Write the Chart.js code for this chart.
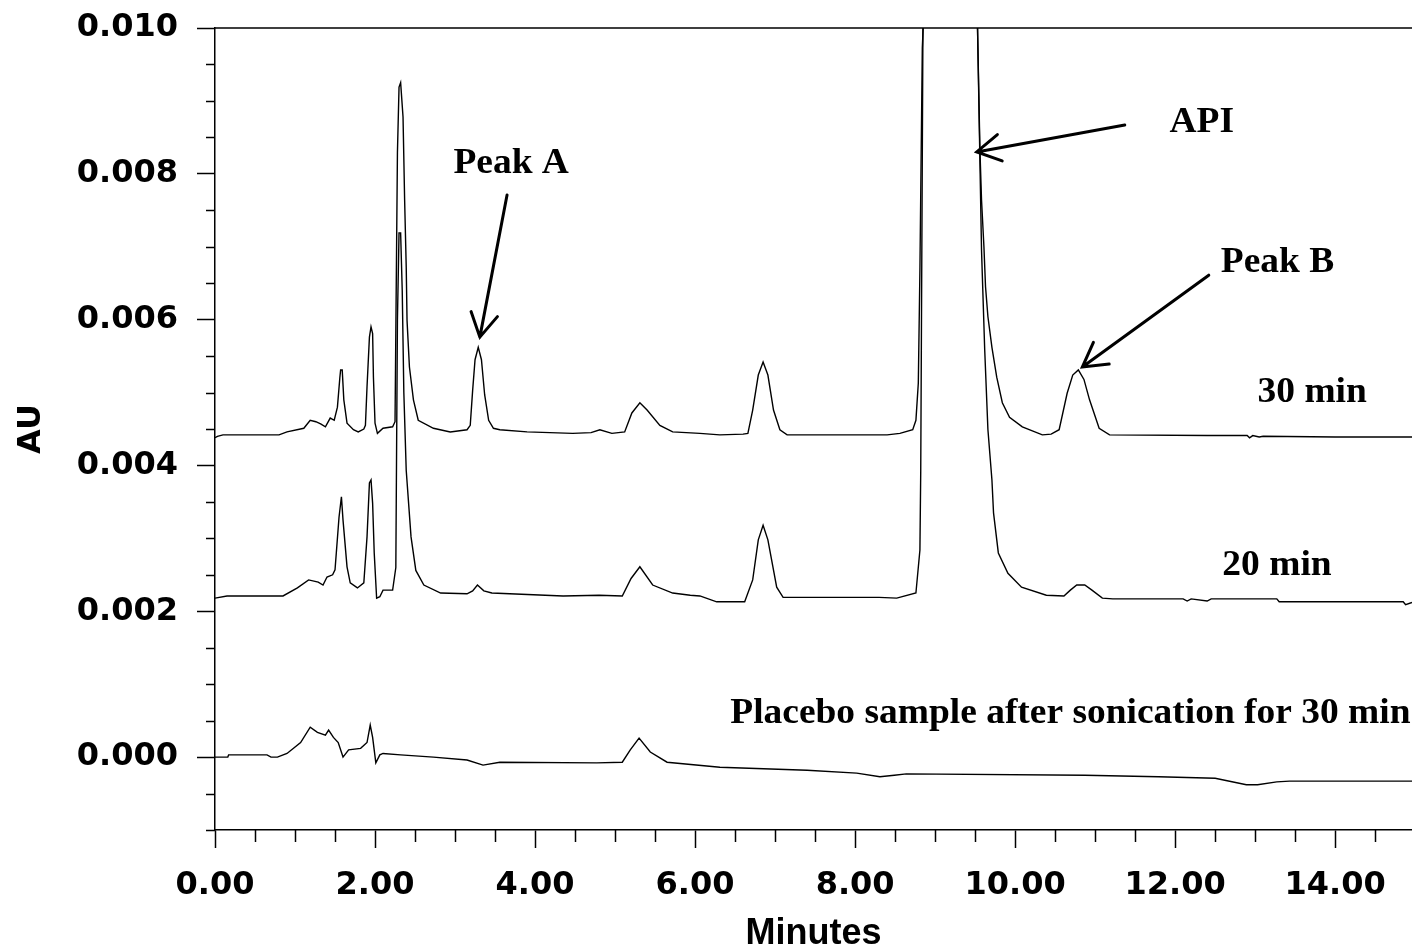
<!DOCTYPE html>
<html>
<head>
<meta charset="utf-8">
<title>Chromatogram - sonication time</title>
<script src="https://cdn.jsdelivr.net/npm/chart.js@4.4.1/dist/chart.umd.min.js"></script>
<style>
  html, body { margin: 0; padding: 0; background: #fff; }
  canvas { display: block; }
</style>
</head>
<body>
<canvas id="chromChart" width="1412" height="952"></canvas>
<script>
// 30 min sonication trace (minutes, AU)
const trace30Time = [0.00, 0.03, 0.10, 0.80, 0.90, 1.11, 1.19, 1.26, 1.32, 1.38, 1.44, 1.49, 1.53, 1.56, 1.57, 1.59, 1.61, 1.65, 1.73, 1.79, 1.86, 1.88, 1.90, 1.93, 1.95, 1.97, 1.98, 2.00, 2.03, 2.10, 2.22, 2.25, 2.28, 2.30, 2.32, 2.35, 2.37, 2.39, 2.40, 2.43, 2.48, 2.54, 2.73, 2.94, 3.15, 3.19, 3.22, 3.25, 3.29, 3.33, 3.37, 3.42, 3.48, 3.56, 3.90, 4.47, 4.70, 4.81, 4.96, 5.12, 5.21, 5.31, 5.40, 5.56, 5.72, 6.06, 6.31, 6.60, 6.66, 6.72, 6.79, 6.85, 6.91, 6.98, 7.06, 7.15, 8.00, 8.40, 8.56, 8.72, 8.76, 8.79, 8.81, 8.84, 8.87, 9.20, 9.52, 9.53, 9.56, 9.58, 9.61, 9.63, 9.66, 9.71, 9.77, 9.84, 9.93, 10.09, 10.34, 10.45, 10.55, 10.65, 10.72, 10.79, 10.86, 10.93, 11.05, 11.18, 12.40, 12.90, 12.93, 12.97, 13.05, 13.10, 14.00, 14.96];
const trace30AU = [0.00438, 0.00440, 0.00442, 0.00442, 0.00446, 0.00451, 0.00462, 0.00460, 0.00457, 0.00453, 0.00465, 0.00462, 0.00480, 0.00520, 0.00531, 0.00531, 0.00490, 0.00458, 0.00449, 0.00446, 0.00450, 0.00455, 0.00508, 0.00576, 0.00590, 0.00581, 0.00521, 0.00458, 0.00444, 0.00451, 0.00453, 0.00460, 0.00829, 0.00919, 0.00925, 0.00878, 0.00764, 0.00672, 0.00599, 0.00535, 0.00490, 0.00462, 0.00451, 0.00446, 0.00449, 0.00455, 0.00503, 0.00545, 0.00562, 0.00545, 0.00497, 0.00462, 0.00451, 0.00449, 0.00446, 0.00444, 0.00445, 0.00449, 0.00444, 0.00446, 0.00472, 0.00486, 0.00476, 0.00455, 0.00446, 0.00444, 0.00442, 0.00443, 0.00444, 0.00476, 0.00524, 0.00542, 0.00524, 0.00476, 0.00449, 0.00442, 0.00442, 0.00442, 0.00444, 0.00449, 0.00462, 0.00513, 0.00668, 0.00973, 0.01050, 0.03000, 0.01050, 0.01000, 0.00833, 0.00764, 0.00700, 0.00645, 0.00604, 0.00562, 0.00521, 0.00486, 0.00466, 0.00453, 0.00442, 0.00443, 0.00449, 0.00499, 0.00524, 0.00531, 0.00518, 0.00490, 0.00451, 0.00442, 0.00441, 0.00441, 0.00438, 0.00441, 0.00439, 0.00440, 0.00439, 0.00439];

// 20 min sonication trace
const trace20Time = [0.00, 0.15, 0.85, 1.03, 1.17, 1.29, 1.35, 1.40, 1.47, 1.50, 1.55, 1.58, 1.60, 1.65, 1.69, 1.78, 1.86, 1.90, 1.93, 1.95, 1.97, 1.99, 2.02, 2.06, 2.10, 2.22, 2.26, 2.28, 2.30, 2.32, 2.34, 2.36, 2.39, 2.45, 2.51, 2.61, 2.82, 3.15, 3.22, 3.28, 3.36, 3.46, 4.35, 4.80, 5.09, 5.20, 5.31, 5.47, 5.72, 5.94, 6.06, 6.27, 6.62, 6.72, 6.79, 6.85, 6.91, 7.02, 7.10, 8.30, 8.52, 8.76, 8.81, 8.82, 8.85, 9.20, 9.51, 9.53, 9.58, 9.62, 9.66, 9.71, 9.73, 9.79, 9.91, 10.08, 10.39, 10.61, 10.69, 10.77, 10.87, 10.96, 11.09, 11.22, 12.10, 12.15, 12.20, 12.40, 12.45, 13.27, 13.30, 14.85, 14.88, 14.96];
const trace20AU = [0.00218, 0.00221, 0.00221, 0.00232, 0.00243, 0.00240, 0.00236, 0.00247, 0.00250, 0.00257, 0.00329, 0.00357, 0.00325, 0.00261, 0.00239, 0.00232, 0.00239, 0.00302, 0.00376, 0.00380, 0.00348, 0.00280, 0.00218, 0.00220, 0.00229, 0.00229, 0.00260, 0.00600, 0.00719, 0.00719, 0.00640, 0.00500, 0.00393, 0.00302, 0.00256, 0.00236, 0.00225, 0.00224, 0.00228, 0.00236, 0.00228, 0.00225, 0.00221, 0.00222, 0.00221, 0.00245, 0.00261, 0.00236, 0.00225, 0.00222, 0.00221, 0.00213, 0.00213, 0.00243, 0.00298, 0.00318, 0.00298, 0.00233, 0.00219, 0.00219, 0.00218, 0.00225, 0.00284, 0.00390, 0.01050, 0.03000, 0.01050, 0.01000, 0.00695, 0.00558, 0.00449, 0.00380, 0.00335, 0.00280, 0.00252, 0.00233, 0.00222, 0.00221, 0.00229, 0.00236, 0.00236, 0.00229, 0.00218, 0.00217, 0.00217, 0.00214, 0.00217, 0.00214, 0.00217, 0.00217, 0.00213, 0.00213, 0.00209, 0.00212];

// Placebo sample after sonication for 30 min
const placeboTime = [0.00, 0.16, 0.17, 0.65, 0.70, 0.78, 0.90, 1.07, 1.19, 1.28, 1.38, 1.42, 1.48, 1.54, 1.60, 1.67, 1.82, 1.90, 1.94, 1.97, 2.01, 2.06, 2.10, 2.32, 2.73, 3.15, 3.35, 3.56, 4.77, 5.09, 5.19, 5.30, 5.44, 5.65, 6.31, 7.40, 8.02, 8.31, 8.49, 8.64, 10.87, 11.79, 12.50, 12.89, 13.03, 13.27, 13.43, 14.96];
const placeboAU = [0.00000, 0.00000, 0.00003, 0.00003, 0.00000, 0.00000, 0.00005, 0.00020, 0.00041, 0.00034, 0.00030, 0.00037, 0.00027, 0.00020, 0.00000, 0.00010, 0.00012, 0.00020, 0.00044, 0.00027, -0.00008, 0.00003, 0.00005, 0.00003, 0.00000, -0.00004, -0.00011, -0.00007, -0.00008, -0.00007, 0.00010, 0.00026, 0.00007, -0.00007, -0.00014, -0.00018, -0.00022, -0.00027, -0.00025, -0.00023, -0.00025, -0.00027, -0.00029, -0.00038, -0.00038, -0.00034, -0.00033, -0.00033];

// Text labels on the plot (left edge / baseline, in data units)
const noteTexts = ['Peak A', 'API', 'Peak B', '30 min', '20 min', 'Placebo sample after sonication for 30 min'];
const noteTime = [2.98, 11.93, 12.57, 13.03, 12.59, 6.44];
const noteAU = [0.00801, 0.00857, 0.00665, 0.00487, 0.00250, 0.00047];

// Arrows: tail -> tip
const arrowFromTime = [3.65, 11.37, 12.42];
const arrowFromAU = [0.00771, 0.00867, 0.00661];
const arrowToTime = [3.31, 9.52, 10.84];
const arrowToAU = [0.00576, 0.00830, 0.00535];

function toPoints(times, values) {
  return times.map((t, i) => ({ x: t, y: values[i] }));
}

// Minor ticks, top frame, labels and arrows
const chromExtras = {
  id: 'chromExtras',
  afterDraw(chart) {
    const { ctx, chartArea, scales } = chart;
    const x = scales.x, y = scales.y;
    ctx.save();
    ctx.strokeStyle = '#000';
    ctx.fillStyle = '#000';
    ctx.lineWidth = 1.5;

    ctx.beginPath();
    ctx.moveTo(chartArea.left, chartArea.top);
    ctx.lineTo(chartArea.right, chartArea.top);
    // minor y ticks every 0.0005
    for (let k = -2; k <= 20; k++) {
      if (k % 4 === 0) continue;
      const py = Math.round(y.getPixelForValue(k * 0.0005)) + 0.5;
      ctx.moveTo(chartArea.left - 9, py);
      ctx.lineTo(chartArea.left, py);
    }
    // minor x ticks every 0.5 min
    for (let k = 1; k <= 29; k++) {
      if (k % 4 === 0) continue;
      const px = Math.round(x.getPixelForValue(k * 0.5)) + 0.5;
      ctx.moveTo(px, chartArea.bottom);
      ctx.lineTo(px, chartArea.bottom + 12);
    }
    ctx.stroke();

    // text labels
    ctx.font = 'bold 35px "Liberation Serif", "Times New Roman", serif';
    ctx.textAlign = 'left';
    ctx.textBaseline = 'alphabetic';
    noteTexts.forEach((txt, i) => {
      ctx.save();
      ctx.translate(x.getPixelForValue(noteTime[i]), y.getPixelForValue(noteAU[i]));
      ctx.scale(1.07, 1);
      ctx.fillText(txt, 0, 0);
      ctx.restore();
    });

    // arrows
    ctx.lineWidth = 3;
    ctx.lineCap = 'round';
    arrowFromTime.forEach((t, i) => {
      const x0 = x.getPixelForValue(t), y0 = y.getPixelForValue(arrowFromAU[i]);
      const x1 = x.getPixelForValue(arrowToTime[i]), y1 = y.getPixelForValue(arrowToAU[i]);
      const a = Math.atan2(y0 - y1, x0 - x1);
      ctx.beginPath();
      ctx.moveTo(x0, y0);
      ctx.lineTo(x1, y1);
      ctx.moveTo(x1 + 27 * Math.cos(a - 0.52), y1 + 27 * Math.sin(a - 0.52));
      ctx.lineTo(x1, y1);
      ctx.lineTo(x1 + 27 * Math.cos(a + 0.52), y1 + 27 * Math.sin(a + 0.52));
      ctx.stroke();
    });
    ctx.restore();
  }
};

const tickFont = { family: '"DejaVu Sans", sans-serif', weight: 'bold', size: 32, lineHeight: 1 };
const lineStyle = { borderColor: '#000', borderWidth: 1.4, pointRadius: 0, tension: 0, fill: false };

new Chart(document.getElementById('chromChart'), {
  type: 'line',
  data: {
    datasets: [
      { label: '30 min', data: toPoints(trace30Time, trace30AU), ...lineStyle },
      { label: '20 min', data: toPoints(trace20Time, trace20AU), ...lineStyle },
      { label: 'Placebo', data: toPoints(placeboTime, placeboAU), ...lineStyle }
    ]
  },
  options: {
    responsive: false,
    animation: false,
    devicePixelRatio: 1,
    events: [],
    layout: { padding: { top: 28, right: 0, bottom: 0, left: 0 } },
    plugins: { legend: { display: false }, tooltip: { enabled: false } },
    scales: {
      x: {
        type: 'linear',
        min: 0,
        max: 14.96,
        afterFit: (scale) => {
          scale.height = 122;
          scale.paddingLeft = 0;
          scale.paddingRight = 0;
        },
        border: { display: true, color: '#000', width: 1.5 },
        grid: { drawOnChartArea: false, drawTicks: true, tickLength: 18, color: '#000', tickWidth: 1.5 },
        ticks: {
          stepSize: 2,
          includeBounds: false,
          maxRotation: 0,
          autoSkip: false,
          padding: 22,
          color: '#000',
          font: tickFont,
          callback: (v) => Number(v).toFixed(2)
        },
        title: {
          display: true,
          text: 'Minutes',
          color: '#000',
          font: { family: '"Liberation Sans", Arial, sans-serif', weight: 'bold', size: 36, lineHeight: 1 },
          padding: { top: 0, bottom: 0 }
        }
      },
      y: {
        min: -0.001,
        max: 0.010,
        afterFit: (scale) => {
          scale.width = 215;
          scale.paddingTop = 0;
          scale.paddingBottom = 0;
        },
        border: { display: true, color: '#000', width: 1.5 },
        grid: { drawOnChartArea: false, drawTicks: true, tickLength: 18, color: '#000', tickWidth: 1.5 },
        ticks: {
          stepSize: 0.002,
          includeBounds: false,
          autoSkip: false,
          padding: 19,
          color: '#000',
          font: tickFont,
          callback: (v) => Number(v).toFixed(3)
        },
        title: {
          display: true,
          text: 'AU',
          color: '#000',
          font: { family: '"DejaVu Sans", sans-serif', weight: 'bold', size: 32, lineHeight: 1 },
          padding: { top: 16, bottom: 0 }
        }
      }
    }
  },
  plugins: [chromExtras]
});
</script>
</body>
</html>
